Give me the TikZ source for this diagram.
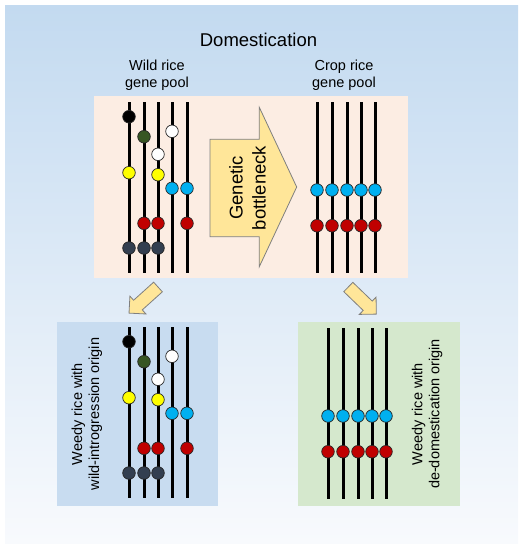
\documentclass[tikz,border=0pt]{standalone}
\usepackage{fontspec}
\setmainfont{Liberation Sans}
\definecolor{bgtop}{HTML}{C3DAF0}
\definecolor{bgbot}{HTML}{F8FAFD}
\definecolor{peach}{HTML}{FCEDE3}
\definecolor{bluepanel}{HTML}{C8DCF0}
\definecolor{greenpanel}{HTML}{D5E8CD}
\definecolor{arrowfill}{HTML}{FFE699}
\definecolor{arrowline}{HTML}{7F7F7F}
\definecolor{alBlue}{HTML}{00B0F0}
\definecolor{alRed}{HTML}{C00000}
\definecolor{alGreen}{HTML}{375623}
\definecolor{alSlate}{HTML}{333F50}
\definecolor{alYellow}{HTML}{FFFF00}
\tikzset{
  chrom/.style={line width=3pt, black},
  allele/.style={circle, draw=black!85, line width=0.7pt, minimum size=12.6pt, inner sep=0pt},
  panel/.style={draw=none},
  blockarrow/.style={fill=arrowfill, draw=arrowline, line width=0.8pt, line join=miter},
  lbl/.style={font=\fontsize{14.5}{17}\selectfont, align=center, inner sep=0pt},
  bigtitle/.style={font=\fontsize{18.5}{22}\selectfont, inner sep=0pt},
  arrowtxt/.style={font=\fontsize{18.5}{23}\selectfont, align=center, inner sep=0pt}
}
\newcommand\wildpool[3]{%
  \foreach \i/\x in {1/129,2/144,3/158,4/172,5/187}{
    \coordinate (#1t\i) at (\x+#2,102+#3);
    \coordinate (#1b\i) at (\x+#2,273+#3);
    \draw[chrom] (#1t\i) -- (#1b\i);
  }
  \foreach \nm/\x/\y/\cl in {a/129/116.7/black, b/129/172.7/alYellow, c/129/248/alSlate,
      d/144/136.7/alGreen, e/144/223.3/alRed, f/144/248/alSlate,
      g/158/154.3/white, h/158/174.7/alYellow, i/158/223.3/alRed, j/158/248/alSlate,
      k/172/131.3/white, l/172/188.3/alBlue,
      m/187/188.3/alBlue, n/187/223.3/alRed}{
    \node[allele, fill=\cl] (#1\nm) at (\x+#2,\y+#3) {};
  }
}
\newcommand\croppool[3]{%
  \foreach \i/\x in {1/317,2/332,3/347,4/361,5/375}{
    \coordinate (#1t\i) at (\x+#2,102+#3);
    \coordinate (#1b\i) at (\x+#2,273+#3);
    \draw[chrom] (#1t\i) -- (#1b\i);
  }
  \foreach \i/\x in {1/317,2/332,3/347,4/361,5/375}{
    \node[allele, fill=alBlue] (#1u\i) at (\x+#2,190+#3) {};
    \node[allele, fill=alRed] (#1r\i) at (\x+#2,225.7+#3) {};
  }
}
\begin{document}
\begin{tikzpicture}[x=1pt,y=-1pt]
\useasboundingbox (0,0) rectangle (524,550);
% background
\shade[top color=bgtop, bottom color=bgbot] (5,5) rectangle (518,543);
% panels
\fill[peach] (94,96) rectangle (408,278);
\fill[bluepanel] (57,322) rectangle (218,506);
\fill[greenpanel] (298,322) rectangle (460,506);
% titles
\node[bigtitle] (title) at (258.5,40) {Domestication};
\node[lbl] (wildlbl) at (157,75) {Wild rice\\gene pool};
\node[lbl] (croplbl) at (344,75) {Crop rice\\gene pool};
% big arrow
\draw[blockarrow] (210,139.3) -- (259.3,139.3) -- (259.3,107.3) -- (296.7,187)
  -- (259.3,266.7) -- (259.3,236.7) -- (210,236.7) -- cycle;
\node[arrowtxt, rotate=90] (bottleneck) at (247.5,188) {Genetic\\bottleneck};
% gene pools
\wildpool{w}{0}{0}
\croppool{c}{0}{0}
\wildpool{ww}{0}{225}
\croppool{cc}{11}{226}
% small arrows
\begin{scope}[shift={(158,287)}, rotate=222]
  \draw[blockarrow] (0,6.5) -- (27,6.5) -- (27,12) -- (39,0) -- (27,-12) -- (27,-6.5) -- (0,-6.5) -- cycle;
\end{scope}
\begin{scope}[shift={(348.3,287)}, rotate=-44]
  \draw[blockarrow] (0,6.5) -- (27,6.5) -- (27,12) -- (39,0) -- (27,-12) -- (27,-6.5) -- (0,-6.5) -- cycle;
\end{scope}
% panel labels
\node[lbl, rotate=90] (wildorigin) at (87,414) {Weedy rice with\\wild-introgression origin};
\node[lbl, rotate=90] (dedomorigin) at (427,414) {Weedy rice with\\de-domestication origin};
\end{tikzpicture}
\end{document}
